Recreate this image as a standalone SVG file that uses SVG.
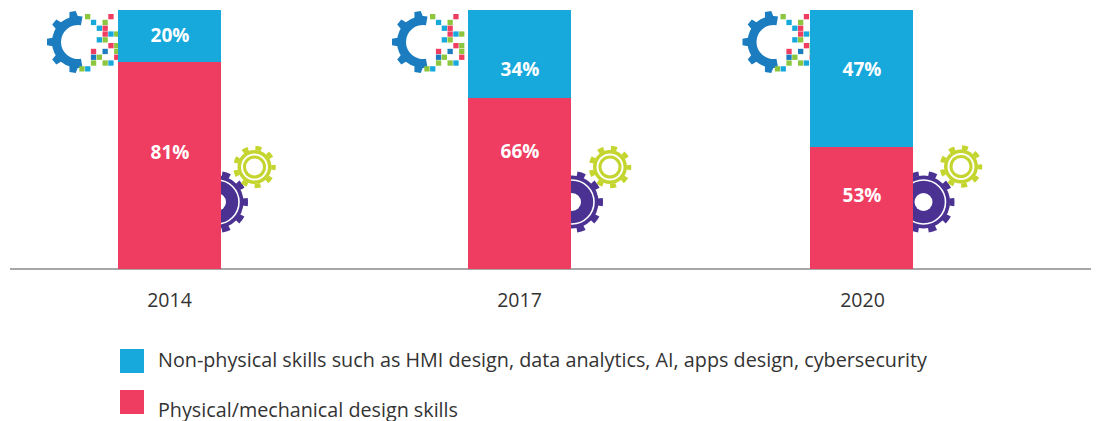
<svg xmlns="http://www.w3.org/2000/svg" width="1101" height="421" viewBox="0 0 1101 421">
<style>
.nb{fill:#17a8dc}.rd{fill:#ef3c61}.gb{fill:#1b7cbf}
.pg{fill:#8cc63f}.pb{fill:#17a8dc}.pr{fill:#ef3c61}.pd{fill:#1b7cbf}
.val{font-family:"Open Sans","Noto Sans","Liberation Sans",sans-serif;font-weight:700;font-size:19px;fill:#fff;text-anchor:middle}
.yr{font-family:"Open Sans","Noto Sans","Liberation Sans",sans-serif;font-size:19.5px;fill:#333;text-anchor:middle}
.lg{font-family:"Open Sans","Noto Sans","Liberation Sans",sans-serif;font-size:19.5px;fill:#333}
</style>
<defs>
<g id="cgear">
<path class="gb" d="M4.51 -25.6 A26 26 0 1 0 4.51 25.6 L2.95 16.74 A17 17 0 1 1 2.95 -16.74 Z"/>
<g class="gb">
<path d="M-4.5 -24 L-3.2 -31 L3.2 -31 L4.5 -24 Z" transform="rotate(-90)"/>
<path d="M-4.5 -24 L-3.2 -31 L3.2 -31 L4.5 -24 Z" transform="rotate(-130)"/>
<path d="M-4.5 -24 L-3.2 -31 L3.2 -31 L4.5 -24 Z" transform="rotate(-50)"/>
<path d="M-4.5 -24 L-3.2 -31 L3.2 -31 L4.5 -24 Z" transform="rotate(-170)"/>
<path d="M-4.5 -24 L-3.2 -31 L3.2 -31 L4.5 -24 Z" transform="rotate(-10)"/>
</g>
<rect class="pg" x="7" y="-28" width="5.3" height="5.3"/>
<rect class="pr" x="30.3" y="-28" width="5.3" height="5.3"/>
<rect class="pb" x="12.9" y="-22.2" width="5.3" height="5.3"/>
<rect class="pg" x="24.5" y="-22.2" width="5.3" height="5.3"/>
<rect class="pb" x="18.7" y="-16.4" width="5.3" height="5.3"/>
<rect class="pr" x="24.5" y="-16.4" width="5.3" height="5.3"/>
<rect class="pr" x="24.5" y="-10.6" width="5.3" height="5.3"/>
<rect class="pb" x="30.3" y="-10.6" width="5.3" height="5.3"/>
<rect class="pg" x="36.1" y="-10.6" width="5.3" height="5.3"/>
<rect class="pb" x="18.7" y="-4.8" width="5.3" height="5.3"/>
<rect class="pg" x="24.5" y="-4.8" width="5.3" height="5.3"/>
<rect class="pr" x="30.3" y="1" width="5.3" height="5.3"/>
<rect class="pg" x="36.1" y="1" width="5.3" height="5.3"/>
<rect class="pr" x="12.9" y="6.8" width="5.3" height="5.3"/>
<rect class="pd" x="24.5" y="6.8" width="5.3" height="5.3"/>
<rect class="pg" x="36.1" y="6.8" width="5.3" height="5.3"/>
<rect class="pd" x="12.9" y="12.6" width="5.3" height="5.3"/>
<rect class="pg" x="18.7" y="12.6" width="5.3" height="5.3"/>
<rect class="pr" x="36.1" y="12.6" width="5.3" height="5.3"/>
<rect class="pg" x="12.9" y="18.4" width="5.3" height="5.3"/>
<rect class="pg" x="24.5" y="18.4" width="5.3" height="5.3"/>
<rect class="pb" x="30.3" y="18.4" width="5.3" height="5.3"/>
<rect class="pg" x="1.3" y="24.2" width="5.3" height="5.3"/>
<rect class="pb" x="7.1" y="24.2" width="5.3" height="5.3"/>
</g>
<g id="pgear">
<circle r="26.5" fill="#4a3192"/>
<circle r="28.5" fill="none" stroke="#4a3192" stroke-width="5" stroke-dasharray="8 9.9" stroke-dashoffset="4"/>
<circle r="22" fill="none" stroke="#fff" stroke-width="1.6"/>
<circle r="9" fill="#fff"/>
</g>
<g id="lgear">
<circle r="17" fill="#c4d52f"/>
<circle r="19" fill="none" stroke="#c4d52f" stroke-width="4.5" stroke-dasharray="6 7.27" stroke-dashoffset="3"/>
<circle r="13.5" fill="#fff"/>
<circle r="11.5" fill="#c4d52f"/>
<circle r="8.5" fill="#fff"/>
</g>
</defs>
<g id="axis">
<line x1="10" y1="269" x2="1091" y2="269" stroke="#8a8a8a" stroke-width="1.5"/>
</g>
<g id="icons">
<use href="#cgear" x="78" y="42"/>
<use href="#cgear" x="423" y="42"/>
<use href="#cgear" x="773.5" y="42"/>
<use href="#pgear" x="217" y="202"/>
<use href="#pgear" x="572" y="202"/>
<use href="#pgear" x="923.5" y="202"/>
<use href="#lgear" x="254.5" y="167"/>
<use href="#lgear" x="610" y="167"/>
<use href="#lgear" x="961" y="166.5"/>
</g>
<g id="bar-2014">
<rect class="nb" x="118" y="10" width="103" height="52"/>
<rect class="rd" x="118" y="62" width="103" height="207"/>
<text class="val" x="170" y="42">20%</text>
<text class="val" x="170" y="159">81%</text>
<text class="yr" x="169.5" y="307">2014</text>
</g>
<g id="bar-2017">
<rect class="nb" x="468" y="10" width="103" height="88"/>
<rect class="rd" x="468" y="98" width="103" height="171"/>
<text class="val" x="520" y="76">34%</text>
<text class="val" x="520" y="158">66%</text>
<text class="yr" x="519.5" y="307">2017</text>
</g>
<g id="bar-2020">
<rect class="nb" x="810" y="10" width="103" height="137"/>
<rect class="rd" x="810" y="147" width="103" height="122"/>
<text class="val" x="862" y="76">47%</text>
<text class="val" x="862" y="202">53%</text>
<text class="yr" x="862.5" y="307">2020</text>
</g>
<g id="legend">
<rect class="nb" x="120" y="349" width="24" height="24"/>
<text class="lg" x="158" y="366.5" textLength="769" lengthAdjust="spacingAndGlyphs">Non-physical skills such as HMI design, data analytics, AI, apps design, cybersecurity</text>
<rect class="rd" x="120" y="390" width="24" height="24"/>
<text class="lg" x="158" y="416.5" textLength="300" lengthAdjust="spacingAndGlyphs">Physical/mechanical design skills</text>
</g>
</svg>
